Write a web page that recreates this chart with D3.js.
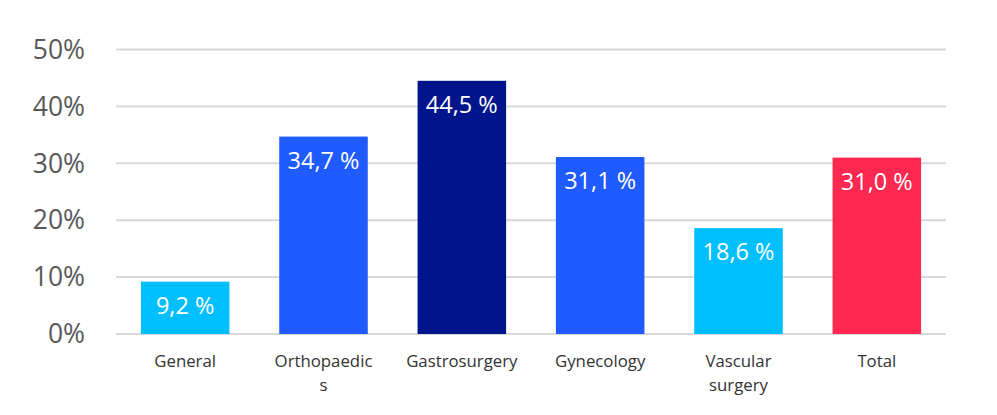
<!DOCTYPE html>
<html>
<head>
<meta charset="utf-8">
<script src="https://cdn.jsdelivr.net/npm/d3@7"></script>
<style>
  body { margin: 0; background: #fff; }
  svg text { font-family: "Open Sans", sans-serif; }
</style>
</head>
<body>
<svg id="chart" width="997" height="415"></svg>
<script>
// chart data
var categories = ["General", "Orthopaedics", "Gastrosurgery", "Gynecology", "Vascular surgery", "Total"];
var category_lines = [["General"], ["Orthopaedic", "s"], ["Gastrosurgery"], ["Gynecology"], ["Vascular", "surgery"], ["Total"]];
var values = [9.2, 34.7, 44.5, 31.1, 18.6, 31.0];
var value_labels = ["9,2 %", "34,7 %", "44,5 %", "31,1 %", "18,6 %", "31,0 %"];
var bar_colors = ["#00bfff", "#1f5bff", "#00148c", "#1f5bff", "#00bfff", "#ff2850"];
var y_ticks = [0, 10, 20, 30, 40, 50];

var svg = d3.select("#chart");
var plot_left = 116, plot_right = 946, plot_top = 49.5, plot_bottom = 334;

var x = d3.scaleBand()
    .domain(categories)
    .range([plot_left, plot_right])
    .paddingInner(0.36)
    .paddingOuter(0.18);

var y = d3.scaleLinear()
    .domain([0, 50])
    .range([plot_bottom, plot_top]);

// gridlines
svg.append("g")
    .selectAll("line")
    .data(y_ticks)
    .enter().append("line")
      .attr("x1", plot_left)
      .attr("x2", plot_right)
      .attr("y1", d => y(d))
      .attr("y2", d => y(d))
      .attr("stroke", "#d9d9d9")
      .attr("stroke-width", 2);

// y tick labels
svg.append("g")
    .selectAll("text")
    .data(y_ticks)
    .enter().append("text")
      .attr("x", 85)
      .attr("y", d => y(d))
      .attr("dy", "0.35em")
      .attr("text-anchor", "end")
      .attr("fill", "#595959")
      .attr("font-size", 26.5)
      .text(d => d + "%");

// bars
svg.append("g")
    .selectAll("rect")
    .data(values)
    .enter().append("rect")
      .attr("x", (d, i) => x(categories[i]))
      .attr("y", d => y(d))
      .attr("width", x.bandwidth())
      .attr("height", d => plot_bottom - y(d))
      .attr("fill", (d, i) => bar_colors[i]);

// value labels inside bar tops
svg.append("g")
    .selectAll("text")
    .data(values)
    .enter().append("text")
      .attr("x", (d, i) => x(categories[i]) + x.bandwidth() / 2)
      .attr("y", d => y(d) + 32)
      .attr("text-anchor", "middle")
      .attr("fill", "#ffffff")
      .attr("font-size", 23.5)
      .text((d, i) => value_labels[i]);

// category labels
var cat = svg.append("g")
    .selectAll("text")
    .data(categories)
    .enter().append("text")
      .attr("x", d => x(d) + x.bandwidth() / 2)
      .attr("y", 367)
      .attr("text-anchor", "middle")
      .attr("fill", "#333333")
      .attr("font-size", 16.8);

cat.each(function(d, i) {
    var t = d3.select(this);
    category_lines[i].forEach(function(line, k) {
        t.append("tspan")
            .attr("x", x(d) + x.bandwidth() / 2)
            .attr("dy", k === 0 ? 0 : 24)
            .text(line);
    });
});
</script>
</body>
</html>
